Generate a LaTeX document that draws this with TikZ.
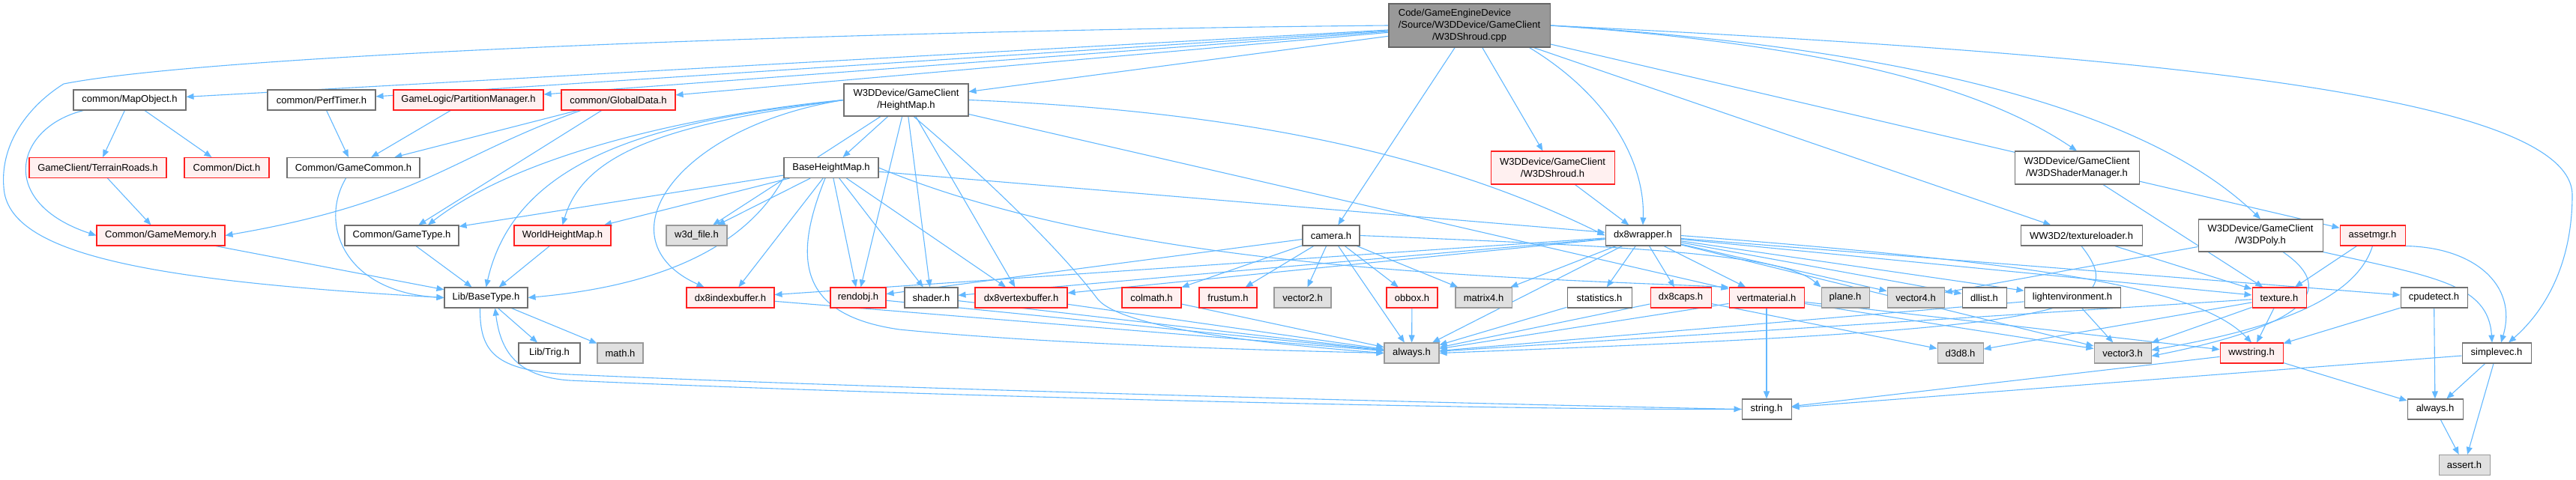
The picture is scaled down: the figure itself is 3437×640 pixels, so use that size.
\documentclass[tikz,border=0pt]{standalone}
\usepackage{fontspec}
\setmainfont{Liberation Sans}
\usetikzlibrary{arrows.meta,calc}
\pgfdeclarelayer{bg}
\pgfsetlayers{bg,main}
\definecolor{edgec}{HTML}{63B8FF}
\definecolor{rfill}{HTML}{FFF0F0}
\definecolor{rbd}{HTML}{FF2020}
\definecolor{gfill}{HTML}{E0E0E0}
\definecolor{gbd}{HTML}{999999}
\definecolor{wbd}{HTML}{707070}
\definecolor{tfill}{HTML}{999999}
\definecolor{tbd}{HTML}{666666}
\begin{document}
\begin{tikzpicture}[x=1pt,y=-1pt,
  box/.style={draw=wbd, fill=white, line width=1.05pt, minimum height=27pt, inner sep=0pt,
    font=\fontsize{13}{16}\selectfont, text=black, align=center},
  redbox/.style={box, draw=rbd, fill=rfill},
  graybox/.style={box, draw=gbd, fill=gfill},
  topbox/.style={box, draw=tbd, fill=tfill},
  e/.style={draw=edgec, line width=1.1pt, -{Triangle[length=10pt,width=8pt]}}]
\useasboundingbox (0,0) rectangle (3437,640);
% ---- nodes
\node[topbox, minimum width=215pt, minimum height=58pt] (T) at (1960.5,34)
  {\rlap{Code/GameEngineDevice}\phantom{/Source/W3DDevice/GameClient}\\/Source/W3DDevice/GameClient\\/W3DShroud.cpp};
% row 1
\node[box, minimum width=150pt] (mapobj) at (173,133.5) {common/MapObject.h};
\node[box, minimum width=144pt] (perftimer) at (429,133.5) {common/PerfTimer.h};
\node[redbox, minimum width=200pt] (partition) at (625,133.5) {GameLogic/PartitionManager.h};
\node[redbox, minimum width=152pt] (globaldata) at (825,133.5) {common/GlobalData.h};
\node[box, minimum width=166pt, minimum height=43pt] (heightmap) at (1209,133.5) {W3DDevice/GameClient\\/HeightMap.h};
% row 2
\node[redbox, minimum width=183pt] (terrainroads) at (130.5,224) {GameClient/TerrainRoads.h};
\node[redbox, minimum width=113pt] (dict) at (302.5,224) {Common/Dict.h};
\node[box, minimum width=177pt] (gamecommon) at (471.5,224) {Common/GameCommon.h};
\node[box, minimum width=126pt] (baseheightmap) at (1109,224) {BaseHeightMap.h};
\node[redbox, minimum width=165pt, minimum height=44pt] (shroudh) at (2071.5,224) {W3DDevice/GameClient\\/W3DShroud.h};
\node[box, minimum width=166pt, minimum height=44pt] (shadermgr) at (2771,224) {W3DDevice/GameClient\\/W3DShaderManager.h};
% row 3
\node[redbox, minimum width=171pt] (gamememory) at (214.5,314.5) {Common/GameMemory.h};
\node[box, minimum width=152pt] (gametype) at (536,314.5) {Common/GameType.h};
\node[redbox, minimum width=129pt] (worldhm) at (750.5,314.5) {WorldHeightMap.h};
\node[graybox, minimum width=81pt] (w3dfile) at (929.5,314.5) {w3d\_file.h};
\node[box, minimum width=76pt] (camera) at (1776,314.5) {camera.h};
\node[box, minimum width=100pt] (dx8wrapper) at (2192,314.5) {dx8wrapper.h};
\node[box, minimum width=162pt] (textureloader) at (2777,314.5) {WW3D2/textureloader.h};
\node[box, minimum width=166pt, minimum height=43pt] (w3dpoly) at (3016,314.5) {W3DDevice/GameClient\\/W3DPoly.h};
\node[redbox, minimum width=87pt] (assetmgr) at (3165.5,314.5) {assetmgr.h};
% row 4
\node[box, minimum width=111pt] (basetype) at (648.5,397.5) {Lib/BaseType.h};
\node[redbox, minimum width=117pt] (dx8ib) at (974.5,397.5) {dx8indexbuffer.h};
\node[redbox, minimum width=74pt] (rendobj) at (1145,397.5) {rendobj.h};
\node[box, minimum width=71pt] (shader) at (1242.5,397.5) {shader.h};
\node[redbox, minimum width=123pt] (dx8vb) at (1362.5,397.5) {dx8vertexbuffer.h};
\node[redbox, minimum width=79pt] (colmath) at (1536.5,397.5) {colmath.h};
\node[redbox, minimum width=77pt] (frustum) at (1638.5,397.5) {frustum.h};
\node[graybox, minimum width=76pt] (vector2) at (1738,397.5) {vector2.h};
\node[redbox, minimum width=68pt] (obbox) at (1884,397.5) {obbox.h};
\node[graybox, minimum width=75pt] (matrix4) at (1979.5,397.5) {matrix4.h};
\node[box, minimum width=86pt] (statistics) at (2134,397.5) {statistics.h};
\node[redbox, minimum width=81pt] (dx8caps) at (2242.5,397.5) {dx8caps.h};
\node[redbox, minimum width=100pt] (vertmaterial) at (2357,397.5) {vertmaterial.h};
\node[graybox, minimum width=64pt] (plane) at (2462,397.5) {plane.h};
\node[graybox, minimum width=76pt] (vector4) at (2556,397.5) {vector4.h};
\node[box, minimum width=59pt] (dllist) at (2647.5,397.5) {dllist.h};
\node[box, minimum width=128pt] (lightenv) at (2765,397.5) {lightenvironment.h};
\node[redbox, minimum width=72pt] (texture) at (3041,397.5) {texture.h};
\node[box, minimum width=89pt] (cpudetect) at (3247.5,397.5) {cpudetect.h};
% row 5
\node[box, minimum width=82pt] (trig) at (733,471.5) {Lib/Trig.h};
\node[graybox, minimum width=61pt] (math) at (827.5,471.5) {math.h};
\node[graybox, minimum width=73pt] (always1) at (1883.5,471.5) {always.h};
\node[graybox, minimum width=61pt] (d3d8) at (2615.5,471.5) {d3d8.h};
\node[graybox, minimum width=76pt] (vector3) at (2832,471.5) {vector3.h};
\node[redbox, minimum width=84pt] (wwstring) at (3004,471.5) {wwstring.h};
\node[box, minimum width=92pt] (simplevec) at (3331,471.5) {simplevec.h};
% row 6/7
\node[box, minimum width=66pt] (string) at (2357,546.5) {string.h};
\node[box, minimum width=74pt] (always2) at (3249,546.5) {always.h};
\node[graybox, minimum width=68pt] (assert) at (3288,621) {assert.h};
% ---- edges
\begin{pgfonlayer}{bg}
% from top file
\foreach \t in {mapobj,perftimer,partition,globaldata,heightmap,camera,shroudh,textureloader,assetmgr}
  \draw[e] (T) -- (\t);
\draw[e] (T.east) .. controls (2450,60) and (2650,120) .. (shadermgr.north);
\draw[e] (T.east) .. controls (2650,70) and (2900,180) .. (w3dpoly.north);
\draw[e] (T.west) .. controls (1200,40) and (300,70) .. (85,112)
  .. controls (40,140) and (0,190) .. (5,250)
  .. controls (10,340) and (200,375) .. (basetype.west);
\draw[e] (T.east) .. controls (2800,70) and (3430,120) .. (3432,260)
  .. controls (3432,360) and (3390,420) .. ($(simplevec.north)+(16,0)$);
\draw[e] ([xshift=80]T.south) .. controls (2150,130) and (2195,220) .. (dx8wrapper.north);
% left part
\draw[e] (mapobj) -- (terrainroads);
\draw[e] (mapobj) -- (dict);
\draw[e] ([xshift=14]mapobj.south west) .. controls (20,170) and (-5,270) .. (gamememory.west);
\draw[e] (terrainroads) -- (gamememory);
\draw[e] (perftimer) -- (gamecommon);
\draw[e] (partition) -- (gamecommon);
\draw[e] (globaldata) -- (gamecommon);
\draw[e] (globaldata) -- (gametype);
\draw[e] ([xshift=-50]globaldata.south) .. controls (600,210) and (560,270) .. (gamememory.east);
\draw[e] ([xshift=-10]gamecommon.south) .. controls (425,300) and (460,390) .. (basetype.west);
\draw[e] (gamememory) -- (basetype);
\draw[e] (gametype) -- (basetype);
\draw[e] (worldhm) -- (basetype);
\draw[e] (basetype) -- (trig);
\draw[e] (basetype) -- (math);
\draw[e] ([xshift=-8]basetype.south) .. controls (640,470) and (660,495) .. (760,500)
  .. controls (1200,520) and (2000,540) .. (string.west);
\draw[e] (string.west) .. controls (2000,548) and (1200,528) .. (760,508)
  .. controls (690,503) and (668,470) .. ([xshift=12]basetype.south);
% HeightMap
\draw[e] (heightmap) -- (baseheightmap);
\draw[e] (heightmap) -- (rendobj);
\draw[e] (heightmap) -- (shader);
\draw[e] (heightmap) -- (dx8vb);
\draw[e] (heightmap) -- (vertmaterial);
\draw[e] (heightmap) -- (w3dfile);
\draw[e] (heightmap.west) .. controls (950,150) and (700,200) .. ($(gametype.north)+(35,0)$);
\draw[e] (heightmap.west) .. controls (900,160) and (690,200) .. (basetype.north);
\draw[e] (heightmap.west) .. controls (900,165) and (780,200) .. (worldhm.north);
\draw[e] (heightmap.west) .. controls (900,170) and (800,320) .. ($(dx8ib.north)+(-35,0)$);
\draw[e] ([xshift=10]heightmap.south) .. controls (1330,250) and (1420,340) .. (1465,400)
  .. controls (1500,440) and (1700,460) .. (always1.west);
\draw[e] (heightmap.east) .. controls (1700,150) and (1950,220) .. (dx8wrapper.west);
% BaseHeightMap
\draw[e] (baseheightmap) -- (gametype);
\draw[e] (baseheightmap) -- (worldhm);
\draw[e] (baseheightmap) -- (w3dfile);
\draw[e] (baseheightmap) -- (dx8ib);
\draw[e] (baseheightmap) -- (rendobj);
\draw[e] (baseheightmap) -- (shader);
\draw[e] (baseheightmap) -- (dx8vb);
\draw[e] (baseheightmap) -- (dx8wrapper);
\draw[e] (baseheightmap.south west) .. controls (1000,320) and (900,380) .. (basetype.east);
\draw[e] ([xshift=-8]baseheightmap.south) .. controls (1060,340) and (1060,420) .. (1200,440)
  .. controls (1400,460) and (1700,468) .. (always1.west);
\draw[e] (baseheightmap.east) .. controls (1500,360) and (2000,370) .. (vertmaterial.north west);
% camera
\foreach \t in {colmath,frustum,vector2,obbox,matrix4,always1,rendobj}
  \draw[e] (camera) -- (\t);
\draw[e] (camera.east) .. controls (2200,330) and (2380,340) .. (plane.north west);
% into always.h
\foreach \s in {dx8ib,rendobj,shader,dx8vb,colmath,obbox,statistics,dx8caps,vertmaterial,lightenv,texture}
  \draw[e] (\s) -- (always1);
\draw[e] (textureloader.south) .. controls (2850,420) and (2750,440) .. (always1.east);
% dx8wrapper
\foreach \t in {statistics,dx8caps,vertmaterial,vector4,dllist,lightenv,texture,cpudetect,matrix4,always1,shader,dx8vb,dx8ib,vector3}
  \draw[e] (dx8wrapper) -- (\t);
\draw[e] (dx8wrapper.east) .. controls (2700,350) and (2930,380) .. (wwstring.north);
\draw[e] (shroudh) -- (dx8wrapper);
% right part
\draw[e] (dx8caps) -- (d3d8);
\draw[e] (texture) -- (d3d8);
\draw[e] (vertmaterial) -- (string);
\draw[e] (vertmaterial) -- (vector3);
\draw[e] (vertmaterial) -- (wwstring);
\draw[e] (lightenv) -- (vector3);
\draw[e] (textureloader) -- (texture);
\draw[e] (shadermgr) -- (texture);
\draw[e] (texture) -- (vector3);
\draw[e] (texture) -- (wwstring);
\draw[e] (w3dpoly) -- (vector4);
\draw[e] ([xshift=30]w3dpoly.south) .. controls (3110,380) and (3100,430) .. ([yshift=-4]vector3.east);
\draw[e] (w3dpoly.south east) .. controls (3250,370) and (3320,380) .. ($(simplevec.north)+(-6,0)$);
\draw[e] (assetmgr) -- (texture);
\draw[e] (assetmgr.south) .. controls (3140,410) and (3000,445) .. ([yshift=4]vector3.east);
\draw[e] (assetmgr.south east) .. controls (3300,330) and (3360,380) .. ($(simplevec.north)+(6,0)$);
\draw[e] (cpudetect) -- (wwstring);
\draw[e] (cpudetect) -- (always2);
\draw[e] (wwstring) -- (string);
\draw[e] (wwstring) -- (always2);
\draw[e] (simplevec) -- (string);
\draw[e] (simplevec) -- (always2);
\draw[e] (simplevec) -- (assert);
\draw[e] (always2) -- (assert);
\end{pgfonlayer}
\end{tikzpicture}
\end{document}
